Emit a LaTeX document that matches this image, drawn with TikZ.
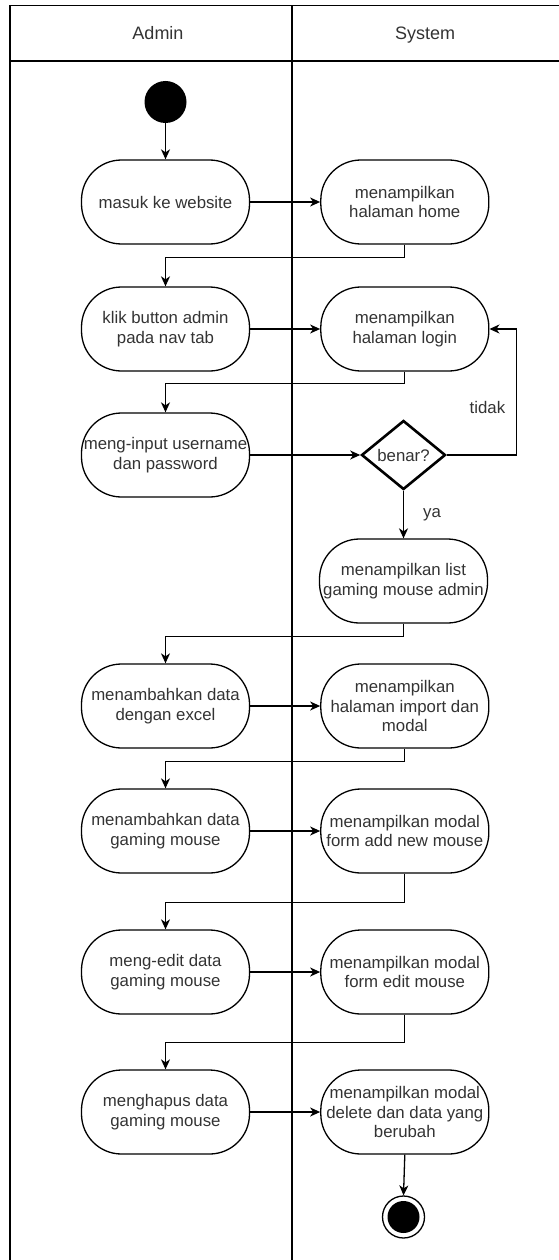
\documentclass[tikz,border=0pt]{standalone}
\usepackage{fontspec}
\setmainfont{Liberation Sans}
\usepackage{tikz}
\usetikzlibrary{shapes.geometric,arrows.meta,positioning}

\tikzset{
  lane/.style={line width=1.4pt},
  act/.style={draw, line width=1.3pt, rounded corners=40pt, minimum width=168pt,
    minimum height=84pt, inner sep=0pt, align=center, text=black!80,
    font=\fontsize{16.8}{19.6}\selectfont},
  decide/.style={draw, diamond, line width=2.6pt, aspect=1.217, minimum width=84pt,
    minimum height=69pt, inner sep=0pt, text=black!80, font=\fontsize{16.8}{19.6}\selectfont},
  flow/.style={line width=1.3pt, -{Stealth[length=10pt,width=9pt,inset=3pt]}},
  lbl/.style={inner sep=0pt, text=black!80, font=\fontsize{16.8}{19.6}\selectfont},
  head/.style={inner sep=0pt, text=black!80, font=\fontsize{18}{21}\selectfont}
}

\begin{document}
\begin{tikzpicture}[x=1pt,y=-1pt]

  \useasboundingbox (0,0) rectangle (559,1260);

  \draw[lane] (10,1260) -- (10,5.5) -- (559,5.5);
  \draw[lane] (10,61) -- (559,61);
  \draw[lane] (292,5.5) -- (292,1260);
  \node[head, anchor=base] (hadmin) at (158,40) {Admin};
  \node[head, anchor=base] (hsys) at (425,40) {System};

  \node[circle, fill=black, minimum size=42pt, inner sep=0pt] (start) at (165.5,102) {};

  \node[act] (a1) at (165.5,202) {masuk ke website};
  \node[act, right=70pt of a1] (s1) {menampilkan\\halaman home};

  \node[act] (a2) at (165.5,329) {klik button admin\\pada nav tab};
  \node[act, right=70pt of a2] (s2) {menampilkan\\halaman login};

  \node[act] (a3) at (165.5,455) {meng-input username\\dan password};
  \node[decide] (d1) at (403.5,455) {benar?};

  \node[act] (s3) at (403.5,581) {menampilkan list\\gaming mouse admin};

  \node[act] (a4) at (165.5,706) {menambahkan data\\dengan excel};
  \node[act, right=70pt of a4] (s4) {menampilkan\\halaman import dan\\modal};

  \node[act] (a5) at (165.5,831) {menambahkan data\\gaming mouse};
  \node[act, right=70pt of a5] (s5) {menampilkan modal\\form add new mouse};

  \node[act] (a6) at (165.5,972) {meng-edit data\\gaming mouse};
  \node[act, right=70pt of a6] (s6) {menampilkan modal\\form edit mouse};

  \node[act] (a7) at (165.5,1112) {menghapus data\\gaming mouse};
  \node[act, right=70pt of a7] (s7) {menampilkan modal\\delete dan data yang\\berubah};

  \node[circle, draw, line width=1.3pt, minimum size=42pt, inner sep=0pt] (endo) at (403.5,1217) {};
  \node[circle, fill=black, minimum size=32pt, inner sep=0pt] (endi) at (endo) {};

  \draw[flow] (start) -- (a1);
  \draw[flow] (a1) -- (s1);
  \draw[flow] (s1.south) -- ++(0,13) -| (a2.north);
  \draw[flow] (a2) -- (s2);
  \draw[flow] (s2.south) -- ++(0,12) -| (a3.north);
  \draw[flow] (a3) -- (d1);
  \draw[flow] (d1.east) -- ++(70,0) |- node[lbl, pos=0.19, left=11pt] {tidak} (s2.east);
  \draw[flow] (d1.south) -- node[lbl, right=19pt] {ya} (s3.north);
  \draw[flow] (s3.south) -- ++(0,13) -| (a4.north);
  \draw[flow] (a4) -- (s4);
  \draw[flow] (s4.south) -- ++(0,13) -| (a5.north);
  \draw[flow] (a5) -- (s5);
  \draw[flow] (s5.south) -- ++(0,29) -| (a6.north);
  \draw[flow] (a6) -- (s6);
  \draw[flow] (s6.south) -- ++(0,28) -| (a7.north);
  \draw[flow] (a7) -- (s7);
  \draw[flow] (s7.south) -- (endo.north);

\end{tikzpicture}
\end{document}
